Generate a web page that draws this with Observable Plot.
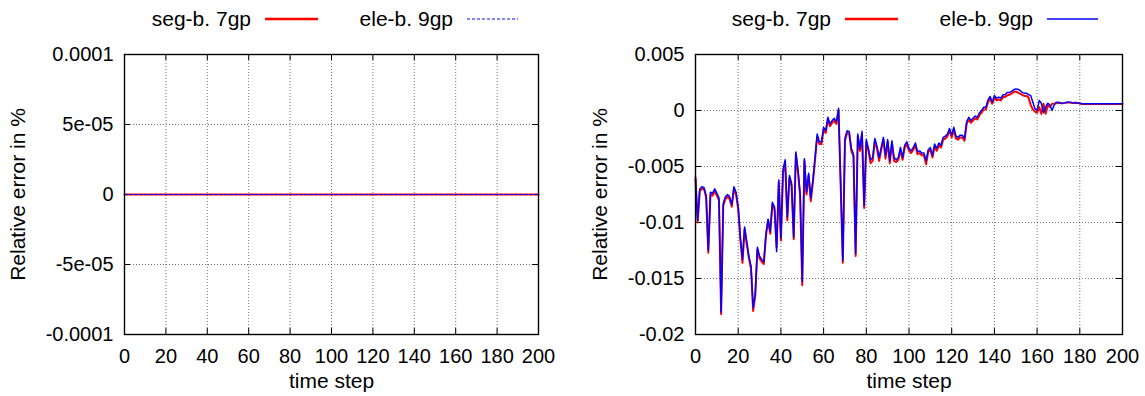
<!DOCTYPE html>
<html>
<head>
<meta charset="utf-8">
<script src="https://cdn.jsdelivr.net/npm/d3@7"></script>
<script src="https://cdn.jsdelivr.net/npm/@observablehq/plot@0.6"></script>
<style>
  html, body { margin: 0; padding: 0; background: #fff; }
  #wrap { display: flex; width: 1145px; height: 396px; font-family: "Liberation Sans", Arial, Helvetica, sans-serif; }
  .panel { position: relative; }
  .legend { position: relative; height: 38px; }
  .legend span { position: absolute; top: 7px; line-height: 24px; font-size: 21px; color: #000; white-space: nowrap; }
  .legend svg { position: absolute; top: 17px; }
</style>
</head>
<body>
<div id="wrap"></div>
<script>
// ---------- data ----------
const seriesNames = ["seg-b. 7gp", "ele-b. 9gp"];
const xTicks = [0, 20, 40, 60, 80, 100, 120, 140, 160, 180, 200];
const xGrid = [20, 40, 60, 80, 100, 120, 140, 160, 180];

// left panel
const leftYTicks = [-0.0001, -0.00005, 0, 0.00005, 0.0001];
const leftYLabels = ["-0.0001", "-5e-05", "0", "5e-05", "0.0001"];
const leftYGrid = [-0.00005, 0.00005];
const leftSteps = [0, 20, 40, 60, 80, 100, 120, 140, 160, 180, 200];
const leftSeg = [0, 0, 0, 0, 0, 0, 0, 0, 0, 0, 0];
const leftEle = [0, 0, 0, 0, 0, 0, 0, 0, 0, 0, 0];

// right panel (values in units of 1e-3 %)
const rightYTicks = [-0.02, -0.015, -0.01, -0.005, 0, 0.005];
const rightYLabels = ["-0.02", "-0.015", "-0.01", "-0.005", "0", "0.005"];
const rightYGrid = [-0.015, -0.01, -0.005, 0];
const rightSteps = d3.range(0, 201);
const rightEle = [
 -5.9,-9.8,-7.0,-6.8,-6.9,-7.6,-12.5,-7.3,-7.4,-7.0,
 -7.4,-7.8,-18.0,-8.3,-7.7,-7.5,-7.7,-8.4,-6.8,-7.3,
 -8.6,-11.3,-13.3,-10.4,-11.7,-13.0,-13.9,-17.6,-16.3,-12.2,
 -13.0,-13.3,-13.5,-11.0,-9.7,-10.8,-8.2,-8.6,-12.6,-6.2,
 -11.4,-5.3,-4.4,-9.5,-5.8,-6.5,-11.3,-3.7,-5.3,-7.4,
 -15.3,-4.3,-7.3,-5.6,-7.8,-6.2,-4.2,-2.1,-2.8,-2.8,
 -1.5,-1.8,-0.6,-1.2,-0.9,-0.7,-1.0,0.2,-6.5,-13.4,
 -2.5,-1.8,-1.9,-3.4,-3.9,-12.8,-2.1,-3.4,-1.85,-8.5,
 -2.6,-3.4,-4.4,-4.2,-2.5,-3.2,-4.2,-3.3,-2.4,-4.0,
 -2.6,-4.5,-2.7,-4.2,-4.4,-4.2,-3.3,-4.2,-3.1,-2.8,
 -3.4,-3.6,-3.3,-2.9,-3.7,-3.6,-3.8,-3.8,-4.5,-3.5,
 -3.3,-4.0,-3.0,-3.4,-2.9,-3.1,-2.4,-2.3,-2.1,-1.6,
 -2.2,-1.5,-2.3,-2.4,-2.2,-2.2,-2.5,-1.0,-0.6,-0.9,
 -0.7,-0.5,-0.6,-0.2,0.0,0.3,0.3,0.95,1.25,0.74,
 1.35,1.1,1.2,1.1,1.4,1.4,1.6,1.6,1.7,1.85,
 1.93,1.9,1.8,1.6,1.55,1.55,1.4,1.35,0.74,0.15,
 0.0,0.9,0.65,-0.2,0.3,0.65,0.5,0.0,0.5,0.74,
 0.74,0.65,0.65,0.68,0.74,0.74,0.71,0.68,0.71,0.68,
 0.65,0.6,0.6,0.6,0.6,0.6,0.6,0.6,0.6,0.6,
 0.6,0.6,0.6,0.6,0.6,0.6,0.6,0.6,0.6,0.6,
 0.6
];
const rightSeg = [
 -6.1,-10.0,-7.2,-7.0,-7.0,-7.8,-12.7,-7.5,-7.6,-7.2,
 -7.6,-8.0,-18.2,-8.5,-7.9,-7.7,-7.9,-8.6,-7.0,-7.5,
 -8.8,-11.5,-13.6,-10.6,-11.9,-13.2,-14.1,-17.9,-16.5,-12.4,
 -13.2,-13.5,-13.7,-11.2,-9.8,-11.0,-8.4,-8.8,-12.2,-6.4,
 -11.6,-5.5,-4.6,-9.8,-6.0,-6.7,-11.5,-3.9,-5.5,-7.6,
 -15.6,-4.5,-7.5,-5.8,-8.1,-6.4,-4.4,-2.3,-3.0,-3.0,
 -1.7,-2.0,-0.8,-1.4,-1.1,-0.9,-1.2,0.0,-6.7,-13.6,
 -2.7,-2.0,-2.1,-3.6,-4.1,-13.0,-2.3,-3.6,-2.1,-8.7,
 -2.8,-3.6,-4.7,-4.5,-2.7,-3.4,-4.5,-3.5,-2.6,-4.3,
 -2.8,-4.7,-2.9,-4.5,-4.6,-4.4,-3.5,-4.4,-3.3,-3.0,
 -3.6,-3.8,-3.5,-3.1,-3.9,-3.8,-4.0,-4.0,-4.8,-3.7,
 -3.5,-4.2,-3.2,-3.6,-3.1,-3.3,-2.6,-2.5,-2.3,-1.8,
 -2.4,-1.7,-2.5,-2.6,-2.4,-2.4,-2.7,-1.2,-0.8,-1.1,
 -0.9,-0.7,-0.8,-0.4,-0.2,0.1,0.1,0.75,1.05,0.6,
 1.15,0.9,1.0,0.9,1.2,1.2,1.35,1.4,1.5,1.65,
 1.7,1.6,1.5,1.4,1.3,1.3,1.15,0.5,0.1,-0.1,
 -0.2,0.3,-0.3,0.6,-0.3,0.5,0.3,0.6,0.6,0.65,
 0.7,0.65,0.65,0.68,0.72,0.72,0.7,0.68,0.7,0.66,
 0.62,0.57,0.57,0.57,0.57,0.57,0.57,0.57,0.57,0.57,
 0.57,0.57,0.57,0.57,0.57,0.57,0.57,0.57,0.57,0.57,
 0.57
];

// ---------- drawing ----------
const FONT = '"Liberation Sans", Arial, Helvetica, sans-serif';
const H = 358, MT = 16, MB = 62;

function buildPanel(cfg) {
  const panel = document.createElement("div");
  panel.className = "panel";
  panel.style.width = cfg.width + "px";

  // legend (HTML above the SVG)
  const leg = document.createElement("div");
  leg.className = "legend";
  leg.style.width = cfg.width + "px";
  cfg.legend.forEach((item) => {
    const s = document.createElement("span");
    s.textContent = item.name;
    s.style.right = (cfg.width - item.textEnd) + "px";
    leg.appendChild(s);
    const len = item.x2 - item.x1;
    const svg = d3.create("svg").attr("width", len).attr("height", 4)
      .style("left", item.x1 + "px");
    svg.append("line").attr("x1", 0).attr("x2", len).attr("y1", 2).attr("y2", 2)
      .attr("stroke", item.color).attr("stroke-width", item.width)
      .attr("stroke-dasharray", item.dash || null);
    leg.appendChild(svg.node());
  });
  panel.appendChild(leg);

  const frameW = cfg.width - cfg.ml - cfg.mr;
  const frameH = H - MT - MB;
  const seg = cfg.steps.map((s, i) => ({step: s, v: cfg.seg[i] * cfg.unit}));
  const ele = cfg.steps.map((s, i) => ({step: s, v: cfg.ele[i] * cfg.unit}));

  const chart = Plot.plot({
    width: cfg.width,
    height: H,
    marginTop: MT,
    marginBottom: MB,
    marginLeft: cfg.ml,
    marginRight: cfg.mr,
    style: {fontFamily: FONT, fontSize: "20px", color: "#000", background: "#fff", overflow: "visible"},
    x: {domain: [0, 200], ticks: xTicks, tickFormat: (d) => String(d), tickSize: 0, tickPadding: 14, label: null},
    y: {domain: cfg.yDomain, ticks: cfg.yTicks, tickFormat: (d) => cfg.yLabels[cfg.yTicks.indexOf(d)], tickSize: 0, tickPadding: 11, label: null},
    marks: [
      Plot.ruleX(xGrid, {x: (d) => d, stroke: "#000", strokeOpacity: 0.55, strokeDasharray: "1,2"}),
      Plot.ruleY(cfg.yGrid, {y: (d) => d, stroke: "#000", strokeOpacity: 0.55, strokeDasharray: "1,2"}),
      Plot.ruleX(xTicks, {x: (d) => d, insetTop: frameH - 6, stroke: "#000"}),
      Plot.ruleX(xTicks, {x: (d) => d, insetBottom: frameH - 6, stroke: "#000"}),
      Plot.ruleY(cfg.yTicks, {y: (d) => d, insetRight: frameW - 6, stroke: "#000"}),
      Plot.ruleY(cfg.yTicks, {y: (d) => d, insetLeft: frameW - 6, stroke: "#000"}),
      Plot.line(seg, {x: "step", y: "v", stroke: "#ff0000", strokeWidth: 2}),
      Plot.line(ele, {x: "step", y: "v", stroke: "#0000ff", strokeWidth: cfg.eleWidth, strokeDasharray: cfg.eleDash}),
      Plot.frame({stroke: "#000", strokeWidth: 1.4}),
      Plot.text(["time step"], {frameAnchor: "bottom", dy: 47, lineAnchor: "middle", textAnchor: "middle", fill: "#000", fontSize: 21}),
      Plot.text(["Relative error in %"], {frameAnchor: "left", dx: -cfg.yTitleOffset, rotate: -90, lineAnchor: "middle", textAnchor: "middle", fill: "#000", fontSize: 21})
    ]
  });
  panel.appendChild(chart);
  return panel;
}

const wrap = document.getElementById("wrap");
wrap.appendChild(buildPanel({
  width: 580, ml: 124, mr: 42,
  yDomain: [-0.0001, 0.0001], yTicks: leftYTicks, yLabels: leftYLabels, yGrid: leftYGrid,
  steps: leftSteps, seg: leftSeg, ele: leftEle, unit: 1,
  eleWidth: 1.2, eleDash: "3,2", yTitleOffset: 106,
  legend: [
    {name: seriesNames[0], textEnd: 251, x1: 265, x2: 318, color: "#ff0000", width: 2.5},
    {name: seriesNames[1], textEnd: 453, x1: 467, x2: 518, color: "#0000ff", width: 1.2, dash: "3,2"}
  ]
}));
wrap.appendChild(buildPanel({
  width: 565, ml: 115, mr: 23,
  yDomain: [-0.02, 0.005], yTicks: rightYTicks, yLabels: rightYLabels, yGrid: rightYGrid,
  steps: rightSteps, seg: rightSeg, ele: rightEle, unit: 0.001,
  eleWidth: 1.5, eleDash: null, yTitleOffset: 95,
  legend: [
    {name: seriesNames[0], textEnd: 251, x1: 265, x2: 318, color: "#ff0000", width: 2.5},
    {name: seriesNames[1], textEnd: 453, x1: 467, x2: 518, color: "#0000ff", width: 1.5}
  ]
}));
</script>
</body>
</html>
